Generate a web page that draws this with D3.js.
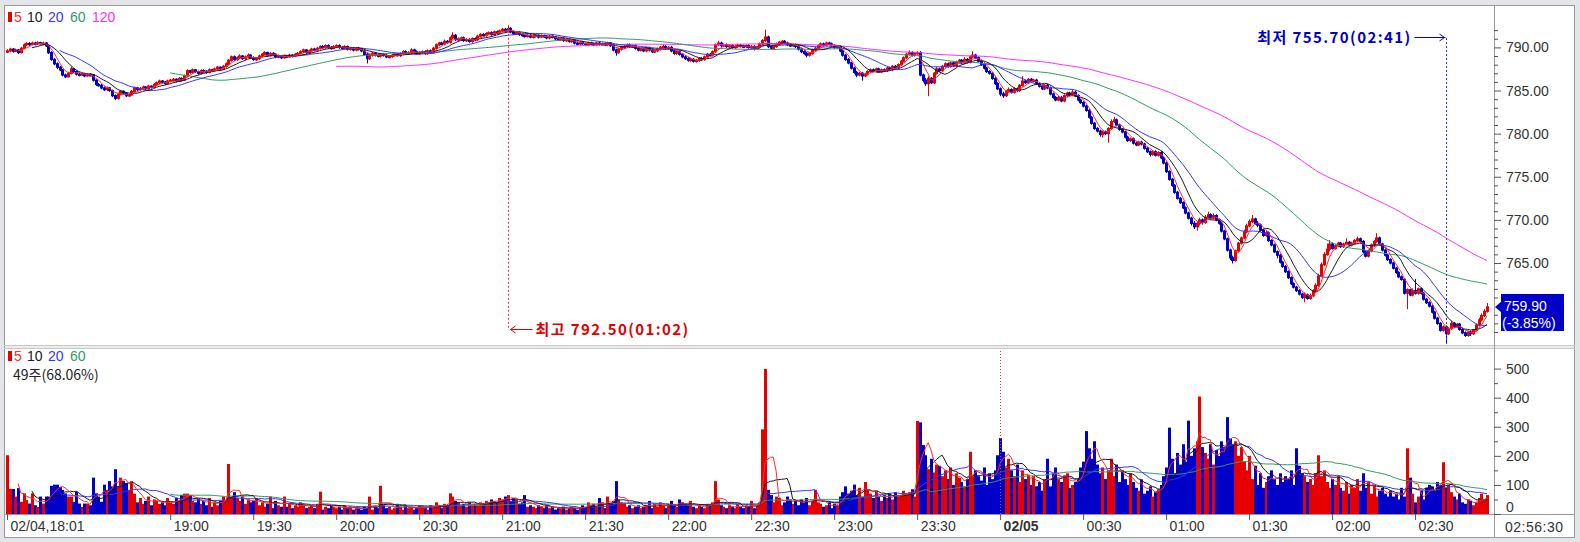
<!DOCTYPE html>
<html><head><meta charset="utf-8">
<script src="https://cdn.jsdelivr.net/npm/d3@7"></script>
<style>
html,body{margin:0;padding:0;background:#e3e5e9;}
svg{display:block;font-family:"Liberation Sans",Arial,sans-serif;}
</style></head><body>
<svg id="chart" width="1580" height="542"></svg>
<script>
// ---------- data ----------
const timeTickIdx = [0,59,89,119,149,179,209,239,269,299,329,359,389,419,449,479,509];
const timeLabels = ["02/04,18:01","19:00","19:30","20:00","20:30","21:00","21:30","22:00","22:30","23:00","23:30","02/05","00:30","01:00","01:30","02:00","02:30"];
const priceTicks = [765,770,775,780,785,790];
const volTicks = [0,100,200,300,400,500];
const priceMaPeriods = [5,10,20,60,120];
const volMaPeriods = [5,10,20,60];
const lastTime = "02:56:30";
const lastPrice = "759.90";
const lastChange = "(-3.85%)";
const highIdx = 181, highLabel = "최고 792.50(01:02)", highValue = 792.50;
const lowIdx = 520, lowLabel = "최저 755.70(02:41)", lowValue = 755.70;
const volLegendNote = "49주(68.06%)";

const closes = [
789.60,789.80,789.55,789.70,789.40,789.90,790.30,790.45,790.35,790.50,
790.40,790.55,790.45,790.50,790.20,789.40,788.60,788.10,787.70,787.40,
786.80,786.60,787.00,787.50,787.20,786.90,786.80,786.95,786.70,786.85,
786.80,786.20,785.70,785.60,785.30,785.10,785.30,785.00,784.40,784.10,
784.60,784.90,784.70,784.40,784.50,784.90,785.30,785.10,785.25,785.40,
785.20,785.50,785.40,785.70,785.90,786.10,786.00,785.80,786.10,786.20,
786.30,786.10,786.40,786.20,786.70,787.30,787.10,787.40,787.20,787.00,
787.30,787.25,787.10,787.40,787.30,787.50,787.70,787.50,787.80,788.10,
788.50,788.90,788.60,788.80,789.00,788.70,788.90,789.10,788.80,788.60,
788.70,789.00,789.20,789.40,789.10,789.30,789.20,788.90,789.00,788.80,
789.00,788.90,789.10,789.00,789.20,789.30,789.50,789.70,789.40,789.60,
789.80,789.70,789.90,790.10,790.00,790.20,790.00,789.90,790.10,790.20,
790.00,789.90,790.10,789.80,789.90,789.70,789.90,789.80,789.60,789.20,
788.70,789.10,789.30,789.10,789.00,789.20,789.05,788.90,788.95,789.10,
789.20,789.05,789.30,789.50,789.30,789.40,789.70,789.50,789.30,789.40,
789.50,789.30,789.60,789.40,789.90,790.30,790.50,790.40,790.70,790.60,
791.10,791.40,790.90,791.00,791.10,790.80,790.90,790.70,791.00,790.90,
791.30,791.50,791.40,791.60,791.70,791.50,791.80,791.70,791.90,792.10,
791.90,792.20,791.80,791.60,791.70,791.50,791.40,791.30,791.40,791.20,
791.30,791.40,791.20,791.35,791.30,791.10,791.30,791.20,791.00,790.90,
791.00,790.80,790.90,790.70,790.80,790.50,790.40,790.60,790.45,790.30,
790.50,790.40,790.30,790.50,790.35,790.40,790.30,790.50,790.20,789.70,
789.40,789.80,790.00,790.10,790.30,790.10,790.20,789.90,789.70,789.80,
789.60,789.90,789.70,789.50,789.60,789.80,790.00,790.10,789.90,790.00,
789.60,789.30,789.50,789.20,788.90,788.70,788.50,788.60,788.40,788.50,
788.70,788.60,788.90,789.20,789.10,789.50,790.30,790.50,790.20,790.30,
790.10,790.20,790.00,790.10,790.25,790.15,790.10,790.20,790.00,790.10,
789.90,790.00,790.40,790.80,791.20,790.10,789.90,790.10,790.40,790.60,
790.70,790.50,790.30,790.20,790.30,790.10,789.80,789.50,789.30,789.10,
789.30,789.70,789.90,790.20,790.40,790.30,790.50,790.40,790.20,790.00,
790.10,789.60,789.10,788.60,788.20,787.60,787.10,786.80,787.00,786.70,
786.90,787.20,787.40,787.30,787.50,787.20,787.40,787.30,787.60,787.40,
787.80,787.70,788.00,788.40,788.80,789.20,789.40,789.10,789.30,789.40,
786.80,786.20,785.80,786.40,785.90,787.00,787.50,787.30,787.80,788.10,
787.80,788.20,787.90,788.30,788.50,788.20,788.60,788.30,788.90,789.10,
788.80,788.40,788.00,787.60,787.20,787.00,786.40,785.80,785.20,784.60,
784.40,784.90,785.10,784.80,785.20,785.00,785.60,786.10,785.90,786.30,
786.10,786.20,785.80,785.50,785.20,785.60,785.30,784.60,784.20,783.90,
784.20,783.80,784.40,784.70,784.50,784.80,784.40,783.90,783.60,783.20,
782.70,781.90,781.20,780.60,780.30,779.90,780.20,780.00,780.60,781.40,
781.60,781.00,780.50,780.20,779.60,779.20,779.40,778.90,778.70,779.00,
778.80,778.30,777.90,777.60,777.90,777.50,777.80,777.20,776.60,775.60,
774.70,774.00,773.20,772.50,772.00,771.40,770.80,770.20,769.60,769.20,
769.60,770.00,769.70,770.30,770.60,770.20,770.50,770.00,769.60,768.70,
767.80,766.50,765.60,765.30,766.40,767.30,767.90,768.60,769.30,769.80,
770.10,769.60,769.40,768.80,768.20,768.50,767.60,767.10,766.30,765.90,
765.10,764.60,764.00,763.30,762.60,762.20,761.80,761.40,761.00,761.30,
760.90,761.20,761.80,762.40,763.50,764.80,766.00,766.60,767.20,766.70,
767.00,767.30,766.90,767.20,767.40,767.10,767.30,767.60,767.80,767.50,
766.30,765.80,766.40,767.10,767.50,767.90,767.20,766.50,765.90,765.40,
765.00,764.40,763.90,763.40,763.10,761.50,761.90,761.30,761.80,761.50,
762.00,761.50,760.80,760.40,760.00,759.30,758.60,758.00,757.20,757.60,
756.80,757.40,758.00,757.60,757.90,757.30,756.90,756.60,757.00,756.80,
757.20,757.80,758.40,758.90,759.40,759.90];

const opens = [
789.50,789.60,789.80,789.55,789.70,789.40,789.90,790.30,790.45,790.35,
790.50,790.40,790.55,790.45,790.50,790.20,789.40,788.60,788.10,787.70,
787.40,786.80,786.60,787.00,787.50,787.20,786.90,786.80,786.95,786.70,
786.85,786.80,786.20,785.70,785.60,785.30,785.10,785.30,785.00,784.40,
784.10,784.60,784.90,784.70,784.40,784.50,784.90,785.30,785.10,785.25,
785.40,785.20,785.50,785.40,785.70,785.90,786.10,786.00,785.80,786.10,
786.20,786.30,786.10,786.40,786.20,786.70,787.30,787.10,787.40,787.20,
787.00,787.30,787.25,787.10,787.40,787.30,787.50,787.70,787.50,787.80,
788.10,788.50,788.90,788.60,788.80,789.00,788.70,788.90,789.10,788.80,
788.60,788.70,789.00,789.20,789.40,789.10,789.30,789.20,788.90,789.00,
788.80,789.00,788.90,789.10,789.00,789.20,789.30,789.50,789.70,789.40,
789.60,789.80,789.70,789.90,790.10,790.00,790.20,790.00,789.90,790.10,
790.20,790.00,789.90,790.10,789.80,789.90,789.70,789.90,789.80,789.60,
789.20,788.70,789.10,789.30,789.10,789.00,789.20,789.05,788.90,788.95,
789.10,789.20,789.05,789.30,789.50,789.30,789.40,789.70,789.50,789.30,
789.40,789.50,789.30,789.60,789.40,789.90,790.30,790.50,790.40,790.70,
790.60,791.10,791.40,790.90,791.00,791.10,790.80,790.90,790.70,791.00,
790.90,791.30,791.50,791.40,791.60,791.70,791.50,791.80,791.70,791.90,
792.10,791.90,792.20,791.80,791.60,791.70,791.50,791.40,791.30,791.40,
791.20,791.30,791.40,791.20,791.35,791.30,791.10,791.30,791.20,791.00,
790.90,791.00,790.80,790.90,790.70,790.80,790.50,790.40,790.60,790.45,
790.30,790.50,790.40,790.30,790.50,790.35,790.40,790.30,790.50,790.20,
789.70,789.40,789.80,790.00,790.10,790.30,790.10,790.20,789.90,789.70,
789.80,789.60,789.90,789.70,789.50,789.60,789.80,790.00,790.10,789.90,
790.00,789.60,789.30,789.50,789.20,788.90,788.70,788.50,788.60,788.40,
788.50,788.70,788.60,788.90,789.20,789.10,789.50,790.30,790.50,790.20,
790.30,790.10,790.20,790.00,790.10,790.25,790.15,790.10,790.20,790.00,
790.10,789.90,790.00,790.40,790.80,791.20,790.10,789.90,790.10,790.40,
790.60,790.70,790.50,790.30,790.20,790.30,790.10,789.80,789.50,789.30,
789.10,789.30,789.70,789.90,790.20,790.40,790.30,790.50,790.40,790.20,
790.00,790.10,789.60,789.10,788.60,788.20,787.60,787.10,786.80,787.00,
786.70,786.90,787.20,787.40,787.30,787.50,787.20,787.40,787.30,787.60,
787.40,787.80,787.70,788.00,788.40,788.80,789.20,789.40,789.10,789.30,
789.40,786.80,786.20,785.80,786.40,785.90,787.00,787.50,787.30,787.80,
788.10,787.80,788.20,787.90,788.30,788.50,788.20,788.60,788.30,788.90,
789.10,788.80,788.40,788.00,787.60,787.20,787.00,786.40,785.80,785.20,
784.60,784.40,784.90,785.10,784.80,785.20,785.00,785.60,786.10,785.90,
786.30,786.10,786.20,785.80,785.50,785.20,785.60,785.30,784.60,784.20,
783.90,784.20,783.80,784.40,784.70,784.50,784.80,784.40,783.90,783.60,
783.20,782.70,781.90,781.20,780.60,780.30,779.90,780.20,780.00,780.60,
781.40,781.60,781.00,780.50,780.20,779.60,779.20,779.40,778.90,778.70,
779.00,778.80,778.30,777.90,777.60,777.90,777.50,777.80,777.20,776.60,
775.60,774.70,774.00,773.20,772.50,772.00,771.40,770.80,770.20,769.60,
769.20,769.60,770.00,769.70,770.30,770.60,770.20,770.50,770.00,769.60,
768.70,767.80,766.50,765.60,765.30,766.40,767.30,767.90,768.60,769.30,
769.80,770.10,769.60,769.40,768.80,768.20,768.50,767.60,767.10,766.30,
765.90,765.10,764.60,764.00,763.30,762.60,762.20,761.80,761.40,761.00,
761.30,760.90,761.20,761.80,762.40,763.50,764.80,766.00,766.60,767.20,
766.70,767.00,767.30,766.90,767.20,767.40,767.10,767.30,767.60,767.80,
767.50,766.30,765.80,766.40,767.10,767.50,767.90,767.20,766.50,765.90,
765.40,765.00,764.40,763.90,763.40,763.10,761.50,761.90,761.30,761.80,
761.50,762.00,761.50,760.80,760.40,760.00,759.30,758.60,758.00,757.20,
757.60,756.80,757.40,758.00,757.60,757.90,757.30,756.90,756.60,757.00,
756.80,757.20,757.80,758.40,758.90,759.40];

const highs = [
789.75,789.90,789.85,789.80,789.75,790.00,790.40,790.55,790.55,790.60,
790.60,790.65,790.60,790.60,790.55,790.25,789.50,788.70,788.20,787.80,
787.45,786.90,787.10,787.70,787.55,787.25,787.00,787.05,787.00,786.95,
786.95,786.85,786.25,785.80,785.70,785.40,785.40,785.35,785.05,784.50,
784.70,785.00,784.95,784.75,784.60,785.00,785.40,785.35,785.35,785.50,
785.45,785.60,785.55,785.80,786.00,786.20,786.15,786.05,786.20,786.30,
786.40,786.35,786.50,786.45,786.80,787.40,787.35,787.50,787.45,787.25,
787.40,787.40,787.30,787.50,787.45,787.60,787.80,787.75,787.90,788.20,
788.60,789.00,789.00,788.90,789.15,789.05,789.00,789.25,789.15,788.90,
788.80,789.10,789.30,789.50,789.45,789.40,789.40,789.25,789.10,789.05,
789.10,789.05,789.20,789.15,789.30,789.40,789.60,789.80,789.75,789.70,
789.90,789.90,790.00,790.20,790.20,790.30,790.30,790.10,790.20,790.30,
790.30,790.10,790.20,790.15,790.00,790.00,790.00,790.00,789.90,789.70,
789.30,789.20,789.40,789.40,789.20,789.30,789.30,789.15,789.05,789.20,
789.30,789.30,789.40,789.60,789.60,789.50,789.85,789.80,789.60,789.50,
789.60,789.60,789.70,789.70,790.00,790.40,790.60,790.60,790.85,790.80,
791.20,791.70,791.50,791.10,791.20,791.20,791.00,791.00,791.10,791.10,
791.40,791.60,791.60,791.70,791.80,791.80,791.90,791.90,792.00,792.20,
792.20,792.50,792.30,791.90,791.80,791.80,791.60,791.50,791.50,791.50,
791.40,791.50,791.45,791.45,791.40,791.35,791.40,791.35,791.25,791.10,
791.10,791.10,791.00,791.00,790.90,790.90,790.60,790.70,790.70,790.50,
790.60,790.60,790.50,790.60,790.60,790.50,790.50,790.60,790.55,790.30,
789.80,789.90,790.10,790.20,790.40,790.40,790.30,790.30,790.00,789.90,
789.90,790.00,790.00,789.80,789.70,789.90,790.10,790.30,790.20,790.10,
790.10,789.70,789.60,789.60,789.30,789.00,788.80,788.70,788.70,788.60,
788.80,788.80,789.00,789.30,789.30,789.60,790.40,790.70,790.60,790.40,
790.40,790.30,790.30,790.20,790.35,790.35,790.25,790.30,790.30,790.20,
790.20,790.10,790.50,790.90,792.00,791.30,790.20,790.20,790.50,790.70,
790.80,790.80,790.60,790.40,790.40,790.40,790.20,789.90,789.60,789.40,
789.40,789.80,790.00,790.30,790.50,790.50,790.60,790.60,790.50,790.30,
790.20,790.20,789.70,789.20,788.70,788.30,787.70,787.20,787.10,787.10,
787.00,787.30,787.50,787.50,787.60,787.60,787.50,787.50,787.70,787.70,
787.90,787.90,788.10,788.50,788.90,789.30,789.60,789.50,789.40,789.50,
789.50,786.90,786.40,786.60,786.50,787.10,787.70,787.60,787.90,788.20,
788.20,788.30,788.30,788.40,788.60,788.60,788.80,788.70,789.00,789.50,
789.20,788.90,788.50,788.10,787.70,787.30,787.10,786.50,785.90,785.30,
784.80,785.00,785.30,785.20,785.30,785.30,785.70,786.60,786.20,786.40,
786.40,786.30,786.30,785.90,785.60,785.70,785.70,785.40,784.70,784.30,
784.30,784.30,784.50,784.80,784.80,785.00,784.90,784.50,784.00,783.70,
783.30,782.80,782.00,781.30,780.70,780.40,780.30,780.30,780.70,781.60,
781.90,781.70,781.10,780.60,780.30,779.70,779.50,779.50,779.00,779.10,
779.10,778.90,778.40,778.00,778.00,778.00,777.90,777.90,777.30,776.70,
775.70,774.80,774.10,773.30,772.60,772.10,771.50,770.90,770.30,769.80,
769.80,770.20,770.10,770.50,770.90,770.70,770.70,770.60,770.10,769.70,
768.80,767.90,766.60,765.80,766.50,767.40,768.00,768.80,769.50,770.00,
770.50,770.20,769.80,769.50,768.90,768.70,768.60,767.70,767.20,766.40,
766.00,765.20,764.70,764.10,763.40,762.70,762.30,761.90,761.50,761.50,
761.40,761.40,761.90,762.60,763.70,765.00,766.20,767.20,767.60,767.30,
767.10,767.40,767.40,767.30,767.80,767.50,767.40,767.70,768.00,767.90,
767.60,766.40,766.50,767.20,767.60,768.40,768.00,767.30,766.60,766.00,
765.50,765.10,764.50,764.00,763.50,763.20,762.00,761.95,762.00,763.10,
762.10,762.10,761.60,760.90,760.50,760.10,759.40,758.70,758.10,757.70,
757.70,757.50,758.20,758.10,758.00,758.00,757.40,757.00,757.10,757.10,
757.30,757.90,758.60,759.10,759.60,760.30];

const lows = [
789.40,789.50,789.45,789.50,789.30,789.35,789.85,790.20,790.25,790.30,
790.30,790.35,790.40,790.40,790.10,789.30,788.50,788.00,787.55,787.30,
786.70,786.50,786.55,786.90,787.10,786.80,786.70,786.75,786.60,786.65,
786.70,786.10,785.60,785.50,785.20,785.00,785.00,784.90,784.30,783.95,
784.00,784.50,784.60,784.30,784.35,784.45,784.80,785.00,785.05,785.20,
785.10,785.15,785.30,785.35,785.60,785.80,785.95,785.70,785.75,786.00,
786.10,786.00,786.05,786.10,786.15,786.60,787.00,787.00,787.10,786.90,
786.95,787.15,787.00,787.05,787.20,787.25,787.40,787.40,787.45,787.70,
788.00,788.40,788.50,788.50,788.70,788.60,788.60,788.80,788.70,788.50,
788.50,788.60,788.90,789.10,789.00,789.00,789.10,788.80,788.80,788.70,
788.75,788.80,788.85,788.90,788.95,789.10,789.25,789.40,789.30,789.35,
789.50,789.60,789.60,789.80,789.90,789.90,789.90,789.80,789.85,790.00,
789.90,789.80,789.80,789.70,789.70,789.60,789.60,789.70,789.50,789.10,
788.20,788.60,789.00,789.00,788.90,788.90,789.00,788.80,788.80,788.85,
789.00,789.00,788.95,789.20,789.20,789.20,789.35,789.40,789.20,789.20,
789.30,789.20,789.20,789.30,789.35,789.80,790.20,790.30,790.30,790.50,
790.50,791.00,790.80,790.80,790.90,790.70,790.70,790.60,790.60,790.80,
790.80,791.20,791.30,791.30,791.50,791.40,791.40,791.60,791.60,791.80,
791.80,791.80,791.70,791.50,791.50,791.40,791.30,791.20,791.20,791.10,
791.10,791.20,791.10,791.15,791.20,791.00,791.00,791.10,790.90,790.80,
790.80,790.70,790.70,790.60,790.60,790.40,790.30,790.30,790.35,790.20,
790.20,790.30,790.20,790.20,790.25,790.30,790.20,790.20,790.10,789.60,
789.10,789.30,789.70,789.90,790.00,790.00,790.00,789.80,789.60,789.60,
789.50,789.50,789.60,789.40,789.40,789.50,789.70,789.90,789.80,789.80,
789.50,789.20,789.20,789.10,788.80,788.60,788.40,788.40,788.30,788.30,
788.40,788.50,788.50,788.80,789.00,789.00,789.40,790.20,790.10,790.10,
790.00,790.00,789.90,789.90,790.00,790.05,790.00,790.00,789.90,789.90,
789.70,789.80,789.90,790.30,790.70,790.00,789.80,789.80,790.00,790.30,
790.50,790.40,790.20,790.10,790.10,790.00,789.70,789.40,789.20,788.90,
789.00,789.20,789.60,789.80,790.10,790.20,790.20,790.30,790.10,789.90,
789.90,789.50,789.00,788.50,788.10,787.50,787.00,786.60,786.70,786.20,
786.60,786.80,787.10,787.20,787.20,787.10,787.10,787.20,787.20,787.30,
787.30,787.60,787.60,787.90,788.30,788.70,789.10,789.00,789.00,789.20,
786.70,786.00,785.60,784.40,785.80,785.80,786.90,787.20,787.20,787.70,
787.70,787.70,787.80,787.80,788.20,788.10,788.10,788.20,788.20,788.80,
788.70,788.30,787.90,787.50,787.10,786.90,786.30,785.70,785.10,784.40,
784.20,784.30,784.80,784.70,784.70,784.90,784.90,785.50,785.80,785.80,
786.00,786.00,785.70,785.40,785.10,785.10,785.20,784.50,784.10,783.80,
783.80,783.70,783.70,784.30,784.40,784.40,784.30,783.80,783.50,783.10,
782.60,781.80,781.10,780.50,780.20,779.70,779.60,779.90,779.00,780.50,
781.30,780.90,780.40,780.10,779.50,779.10,779.10,778.80,778.60,778.60,
778.70,778.20,777.80,777.40,777.50,777.40,777.40,777.10,776.50,775.50,
774.60,773.90,773.10,772.40,771.90,771.30,770.70,770.10,769.40,769.00,
768.80,769.40,769.50,769.60,770.20,770.10,770.10,769.90,769.50,768.60,
767.70,766.40,765.40,765.00,765.20,766.30,767.20,767.80,768.50,769.20,
769.70,769.50,769.20,768.70,768.10,768.10,767.50,767.00,766.20,765.60,
765.00,764.50,763.90,763.20,762.50,762.10,761.70,761.30,760.90,760.50,
760.80,760.80,761.10,761.70,762.30,763.40,764.70,765.90,766.40,766.60,
766.60,766.90,766.80,766.80,767.10,767.00,767.00,767.20,767.50,767.40,
766.20,765.70,765.70,766.30,767.00,767.40,767.10,766.40,765.80,765.30,
764.90,764.30,763.80,763.30,763.00,761.40,759.70,761.20,761.20,761.40,
761.40,761.40,760.70,760.30,759.90,759.20,758.50,757.90,757.10,757.10,
755.70,756.70,757.30,757.50,757.50,757.20,756.80,756.50,756.50,756.60,
756.70,757.10,757.70,758.30,758.80,759.30];

const volumes = [
202,86,86,60,89,42,71,48,36,71,
30,24,60,36,60,60,97,101,101,93,
83,71,60,60,42,77,36,24,36,36,
30,125,71,60,42,101,83,113,95,154,
95,125,113,107,83,113,70,40,55,35,
45,60,30,50,45,35,40,30,55,40,
35,55,45,65,70,70,65,45,40,55,
35,45,30,55,25,40,30,45,60,45,
172,60,75,55,45,60,35,50,40,45,
55,30,40,25,35,60,20,45,30,25,
60,25,35,20,30,25,40,30,20,25,
30,20,35,77,15,25,20,30,25,20,
25,15,30,20,25,15,20,20,15,25,
20,60,15,25,20,97,30,20,25,15,
20,35,25,15,30,20,25,15,20,30,
25,20,15,30,25,40,30,20,35,30,
71,60,45,40,30,35,25,40,30,35,
30,40,35,45,40,50,45,40,55,50,
60,65,45,55,50,35,40,65,25,30,
25,20,30,25,20,30,20,25,15,20,
20,25,15,20,25,20,15,20,30,25,
40,30,35,25,55,40,20,60,35,45,
113,50,40,35,25,30,20,25,30,20,
25,30,45,20,35,25,40,30,20,35,
45,30,25,50,40,35,30,45,25,20,
30,25,20,35,35,40,113,50,30,25,
20,30,25,20,35,25,20,30,25,45,
20,30,40,291,499,83,65,40,60,55,
30,40,60,50,35,45,30,50,40,55,
30,45,83,40,35,25,30,40,20,35,
30,60,75,95,70,80,101,65,90,60,
110,85,70,55,80,60,45,65,55,70,
50,75,60,65,80,70,75,85,60,320,
315,237,202,154,190,143,170,166,130,150,
120,160,100,140,125,110,95,120,214,130,
150,130,115,160,100,140,120,150,202,261,
214,160,190,150,130,170,110,150,120,135,
100,130,95,110,80,120,190,95,140,160,
120,110,130,140,90,100,110,120,160,180,
285,226,190,250,170,140,160,120,150,190,
130,170,110,150,120,100,140,110,90,80,
119,70,80,95,60,75,85,100,130,160,
297,190,140,210,170,240,180,321,200,226,
250,404,230,210,190,240,170,220,200,250,
230,333,260,240,250,200,230,180,150,200,
120,166,100,140,90,110,130,150,120,100,
140,110,130,120,150,100,226,166,140,130,
110,120,100,140,202,130,150,110,90,120,
100,130,90,80,110,70,100,90,120,80,
140,90,110,70,100,60,80,90,70,60,
80,60,70,50,90,60,226,125,70,40,
60,80,50,90,100,95,80,110,100,178,
90,100,75,60,50,70,40,35,50,45,
30,40,55,70,50,65];

// ---------- drawing ----------
const UP = "#e60000", DOWN = "#0000c8";
const maColors = {5:"#ff2a2a",10:"#1a1a1a",20:"#3535ff",60:"#2f9a66",120:"#ff2cff"};
const L = 4, R = 1494, RR = 1575, PT = 5, PB = 345, VT = 348, VB = 514, AB = 538;

const svg = d3.select("#chart");
svg.append("rect").attr("width",1580).attr("height",542).attr("fill","#e3e5e9");
svg.append("rect").attr("x",L).attr("y",PT).attr("width",RR-L).attr("height",AB-PT).attr("fill","#fff");
svg.append("rect").attr("x",L).attr("y",PB).attr("width",RR-L).attr("height",VT-PB).attr("fill","#ececec");

const n = closes.length;
const x = d3.scaleLinear().domain([0, n-1]).range([7, 1487]);
const y = d3.scaleLinear().domain([765, 790]).range([263.0, 47.4]);
const yv = d3.scaleLinear().domain([0, 500]).range([514, 368.6]);

const defs = svg.append("defs");
defs.append("clipPath").attr("id","cp").append("rect").attr("x",L).attr("y",PT).attr("width",R-L).attr("height",PB-PT);
defs.append("clipPath").attr("id","cv").append("rect").attr("x",L).attr("y",VT).attr("width",R-L).attr("height",VB-VT);

const idx = d3.range(n);
const isUp = i => closes[i] >= opens[i];

// price candles
const gP = svg.append("g").attr("clip-path","url(#cp)");
gP.selectAll("line.wick").data(idx).join("line")
  .attr("x1", i => Math.round(x(i))+0.5).attr("x2", i => Math.round(x(i))+0.5)
  .attr("y1", i => y(highs[i]) - 0.5).attr("y2", i => y(lows[i]) + 0.5)
  .attr("stroke", i => isUp(i) ? UP : DOWN).attr("stroke-width",1);
gP.selectAll("rect.body").data(idx).join("rect")
  .attr("x", i => Math.round(x(i)) - 1).attr("width", 3)
  .attr("y", i => y(Math.max(opens[i], closes[i])) - 0.6)
  .attr("height", i => Math.max(2.4, Math.abs(y(opens[i]) - y(closes[i])) + 1.2))
  .attr("fill", i => isUp(i) ? UP : DOWN);

function sma(arr, p){ return arr.map((_, i) => i < p-1 ? null : d3.mean(arr.slice(i-p+1, i+1))); }
const lineP = d3.line().defined(d => d != null).x((d,i) => x(i)).y(d => y(d));
priceMaPeriods.slice().reverse().forEach(p => {
  gP.append("path").datum(sma(closes, p)).attr("d", lineP)
    .attr("fill","none").attr("stroke", maColors[p]).attr("stroke-width",1);
});

// volume bars
const gV = svg.append("g").attr("clip-path","url(#cv)");
gV.selectAll("rect").data(idx).join("rect")
  .attr("x", i => Math.round(x(i)) - 1).attr("width", 3)
  .attr("y", i => yv(volumes[i])).attr("height", i => yv(0) - yv(volumes[i]))
  .attr("fill", i => isUp(i) ? UP : DOWN);
const lineV = d3.line().defined(d => d != null).x((d,i) => x(i)).y(d => yv(d));
volMaPeriods.slice().reverse().forEach(p => {
  gV.append("path").datum(sma(volumes, p)).attr("d", lineV)
    .attr("fill","none").attr("stroke", maColors[p]).attr("stroke-width",1);
});

// date separator in volume pane
svg.append("line").attr("x1", Math.round(x(359))+0.5).attr("x2", Math.round(x(359))+0.5)
  .attr("y1", VT).attr("y2", VB).attr("stroke","#ff3030").attr("stroke-dasharray","1,2");

// frame lines
const frame = "#9a9a9a";
svg.append("rect").attr("x",L+0.5).attr("y",PT+0.5).attr("width",RR-L-1).attr("height",AB-PT-1).attr("fill","none").attr("stroke",frame);
[[L,PB,RR,PB],[L,VT,RR,VT]].forEach(a =>
  svg.append("line").attr("x1",a[0]).attr("y1",a[1]+0.5).attr("x2",a[2]).attr("y2",a[3]+0.5).attr("stroke","#c8c8c8"));
svg.append("line").attr("x1",L).attr("x2",RR).attr("y1",VB+0.5).attr("y2",VB+0.5).attr("stroke",frame);
svg.append("line").attr("x1",R+0.5).attr("x2",R+0.5).attr("y1",PT).attr("y2",AB).attr("stroke",frame);

// axes
const axFont = "14px";
const pAxis = svg.append("g").attr("transform",`translate(${R},0)`)
  .call(d3.axisRight(y).tickValues(priceTicks).tickFormat(d3.format(".2f")).tickSize(7).tickPadding(5));
const pMinor = svg.append("g").attr("transform",`translate(${R},0)`)
  .call(d3.axisRight(y).tickValues(d3.range(757, 793).filter(v => v % 5 !== 0)).tickFormat("").tickSize(4));
const vAxis = svg.append("g").attr("transform",`translate(${R},0)`)
  .call(d3.axisRight(yv).tickValues(volTicks).tickSize(7).tickPadding(5));
const vMinor = svg.append("g").attr("transform",`translate(${R},0)`)
  .call(d3.axisRight(yv).tickValues([50,150,250,350,450]).tickFormat("").tickSize(4));
vAxis.selectAll(".tick").filter(d => d === 0).select("text").attr("dy","-0.2em");
const tAxis = svg.append("g").attr("transform",`translate(0,${VB})`)
  .call(d3.axisBottom(x).tickValues(timeTickIdx).tickFormat((d,k) => timeLabels[k]).tickSize(6));
tAxis.selectAll("text").attr("text-anchor","start").attr("x",3).attr("y",7)
  .attr("font-weight", (d,k) => timeLabels[k] === "02/05" ? "bold" : "normal");
[pAxis,pMinor,vAxis,vMinor,tAxis].forEach(g => {
  g.select(".domain").remove();
  g.selectAll("line").attr("stroke","#555");
  g.selectAll("text").attr("fill","#333").style("font-size",axFont).style("font-family","Liberation Sans, Arial, sans-serif");
});
svg.append("text").attr("x",1505).attr("y",532).attr("fill","#333").style("font-size",axFont).style("letter-spacing","0.5px").text(lastTime);

// current price box
const yl = y(+lastPrice);
svg.append("path").attr("d",`M${R+1},${yl} L${R+8},${yl-6} L${R+8},${yl+6} Z`).attr("fill",DOWN);
svg.append("rect").attr("x",1501).attr("y",yl-13).attr("width",63).attr("height",37).attr("fill",DOWN);
svg.append("text").attr("x",1504).attr("y",yl+4).attr("fill","#fff").style("font-size","14px").text(lastPrice);
svg.append("text").attr("x",1502).attr("y",yl+21).attr("fill","#fff").style("font-size","14px").text(lastChange);

// legends
function legend(yPos, periods){
  const g = svg.append("g").style("font-size","14px");
  g.append("rect").attr("x",8).attr("y",yPos-10).attr("width",4).attr("height",10).attr("fill",UP);
  const xs = [14,27,48,70,92];
  periods.forEach((p,k) => g.append("text").attr("x",xs[k]).attr("y",yPos).attr("fill",maColors[p]).text(p));
}
legend(22, priceMaPeriods);
legend(361, volMaPeriods);
svg.append("text").attr("x",13).attr("y",380).attr("fill","#222").style("font-size","14px")
  .style("font-family","'Noto Sans CJK KR', sans-serif").text(volLegendNote);

// high annotation
const xh = Math.round(x(highIdx))+0.5;
svg.append("line").attr("x1",xh).attr("x2",xh).attr("y1",y(highValue)+4).attr("y2",330)
  .attr("stroke","#ff3030").attr("stroke-dasharray","2,2");
svg.append("line").attr("x1",xh+2).attr("x2",xh+24).attr("y1",329.5).attr("y2",329.5).attr("stroke","#e00000");
svg.append("path").attr("d",`M${xh+7},${326} L${xh+2},${329.5} L${xh+7},${333}`).attr("fill","none").attr("stroke","#e00000");
svg.append("text").attr("x",xh+27).attr("y",335).attr("fill","#e00000").attr("font-weight","bold")
  .style("font-size","15px").style("letter-spacing","1.4px").style("font-family","'Noto Sans CJK KR', sans-serif").text(highLabel);

// low annotation
const xlw = Math.round(x(lowIdx))+0.5;
svg.append("line").attr("x1",xlw).attr("x2",xlw).attr("y1",38).attr("y2",y(lowValue)-2)
  .attr("stroke","#3030ff").attr("stroke-dasharray","2,2");
svg.append("line").attr("x1",xlw-32).attr("x2",xlw-1).attr("y1",37.5).attr("y2",37.5).attr("stroke","#0000d0");
svg.append("path").attr("d",`M${xlw-7},${34} L${xlw-2},${37.5} L${xlw-7},${41}`).attr("fill","none").attr("stroke","#0000d0");
svg.append("text").attr("x",xlw-35).attr("y",43).attr("text-anchor","end").attr("fill","#0000c0").attr("font-weight","bold")
  .style("font-size","15px").style("letter-spacing","1.4px").style("font-family","'Noto Sans CJK KR', sans-serif").text(lowLabel);
</script>
</body></html>
